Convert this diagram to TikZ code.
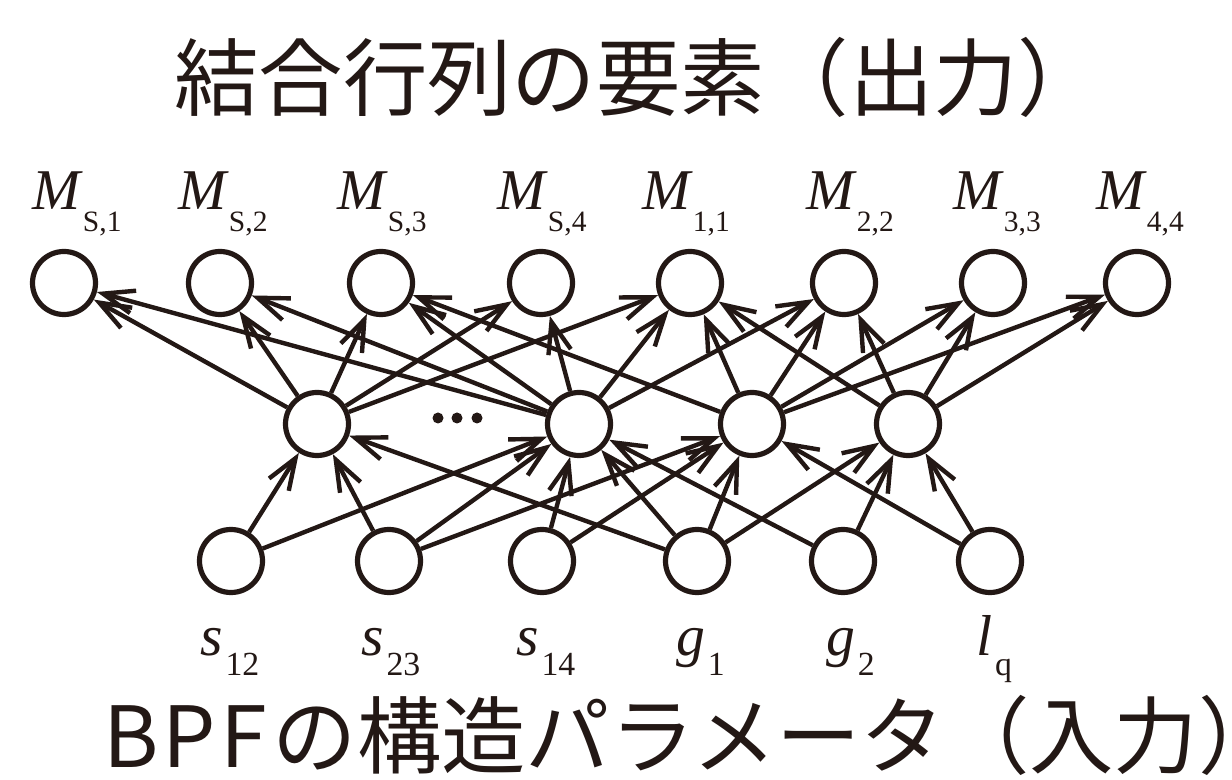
\documentclass[tikz,border=0pt]{standalone}
\usepackage{fontspec}
\setmainfont{Liberation Serif}
\newfontfamily\jpfont{Noto Sans CJK JP}
\usepackage{xcolor}
\usetikzlibrary{arrows.meta}
\definecolor{ink}{HTML}{231815}
\newcommand{\msub}[2]{\textit{#1}\raisebox{-15.5pt}{\fontsize{21}{21}\selectfont #2}}
\newcommand{\psub}[2]{\textit{#1}\kern2pt\raisebox{-14.5pt}{\fontsize{24}{24}\selectfont #2}}
\tikzset{
  every node/.style={text=ink},
  unit/.style={circle,draw=ink,line width=0.13cm,minimum size=1.575cm,inner sep=0pt,fill=white},
  ed/.style={-{Straight Barb[length=0.78cm,width=0.58cm]},draw=ink,line width=0.11cm},
  vlab/.style={font=\fontsize{41}{41}\selectfont,anchor=base west,inner sep=0pt},
  heading/.style={font=\jpfont\fontsize{60}{60}\selectfont,anchor=west,inner sep=0pt},
  dot/.style={circle,fill=ink,minimum size=0.275cm,inner sep=0pt},
}
\begin{document}
\begin{tikzpicture}[x=0.025cm,y=-0.025cm]
\useasboundingbox (0,0) rectangle (1232,780);

% headings
\node[heading] (ttl) at (174,77) {結合行列の要素（出力）};
\node[heading] (sub) at (103,735) {B\kern3ptP\kern3ptF\kern4ptの構造パラメータ（入力）\kern-0.6em};

% output layer
\node[unit] (o1) at (64,283) {};
\node[unit] (o2) at (220,283) {};
\node[unit] (o3) at (381,283) {};
\node[unit] (o4) at (541,283) {};
\node[unit] (o5) at (690,283) {};
\node[unit] (o6) at (844,283) {};
\node[unit] (o7) at (993,283) {};
\node[unit] (o8) at (1137,283) {};

% hidden layer
\node[unit] (h1) at (317,424) {};
\node[unit] (h2) at (579,424) {};
\node[unit] (h3) at (752,424) {};
\node[unit] (h4) at (908,424) {};
\node[dot] (d1) at (438,418) {};
\node[dot] (d2) at (457,418) {};
\node[dot] (d3) at (477,418) {};

% input layer
\node[unit] (i1) at (231,561) {};
\node[unit] (i2) at (389,561) {};
\node[unit] (i3) at (542,561) {};
\node[unit] (i4) at (697,561) {};
\node[unit] (i5) at (843,561) {};
\node[unit] (i6) at (990,561) {};

% labels
\node[vlab] (lo1) at (32,210) {\msub{M}{S,1}};
\node[vlab] (lo2) at (178,210) {\msub{M}{S,2}};
\node[vlab] (lo3) at (337,210) {\msub{M}{S,3}};
\node[vlab] (lo4) at (497,210) {\msub{M}{S,4}};
\node[vlab] (lo5) at (642,210) {\msub{M}{1,1}};
\node[vlab] (lo6) at (806,210) {\msub{M}{2,2}};
\node[vlab] (lo7) at (953,210) {\msub{M}{3,3}};
\node[vlab] (lo8) at (1096,210) {\msub{M}{4,4}};
\node[vlab] (li1) at (200,655) {\psub{s}{12}};
\node[vlab] (li2) at (361,655) {\psub{s}{23}};
\node[vlab] (li3) at (516,655) {\psub{s}{14}};
\node[vlab] (li4) at (676,655) {\psub{g}{1}};
\node[vlab] (li5) at (826,655) {\psub{g}{2}};
\node[vlab] (li6) at (976,655) {\psub{l}{q}};

% input -> hidden
\draw[ed] (i1) -- (h1); \draw[ed] (i1) -- (h2);
\draw[ed] (i2) -- (h1); \draw[ed] (i2) -- (h2); \draw[ed] (i2) -- (h3);
\draw[ed] (i3) -- (h2); \draw[ed] (i3) -- (h3);
\draw[ed] (i4) -- (h1); \draw[ed] (i4) -- (h2); \draw[ed] (i4) -- (h3); \draw[ed] (i4) -- (h4);
\draw[ed] (i5) -- (h2); \draw[ed] (i5) -- (h4);
\draw[ed] (i6) -- (h3); \draw[ed] (i6) -- (h4);

% hidden -> output
\draw[ed] (h1) -- (o1); \draw[ed] (h1) -- (o2); \draw[ed] (h1) -- (o3); \draw[ed] (h1) -- (o4); \draw[ed] (h1) -- (o5);
\draw[ed] (h2) -- (o1); \draw[ed] (h2) -- (o2); \draw[ed] (h2) -- (o3); \draw[ed] (h2) -- (o4); \draw[ed] (h2) -- (o5); \draw[ed] (h2) -- (o6);
\draw[ed] (h3) -- (o3); \draw[ed] (h3) -- (o5); \draw[ed] (h3) -- (o6); \draw[ed] (h3) -- (o7); \draw[ed] (h3) -- (o8);
\draw[ed] (h4) -- (o5); \draw[ed] (h4) -- (o6); \draw[ed] (h4) -- (o7); \draw[ed] (h4) -- (o8);
\end{tikzpicture}
\end{document}
